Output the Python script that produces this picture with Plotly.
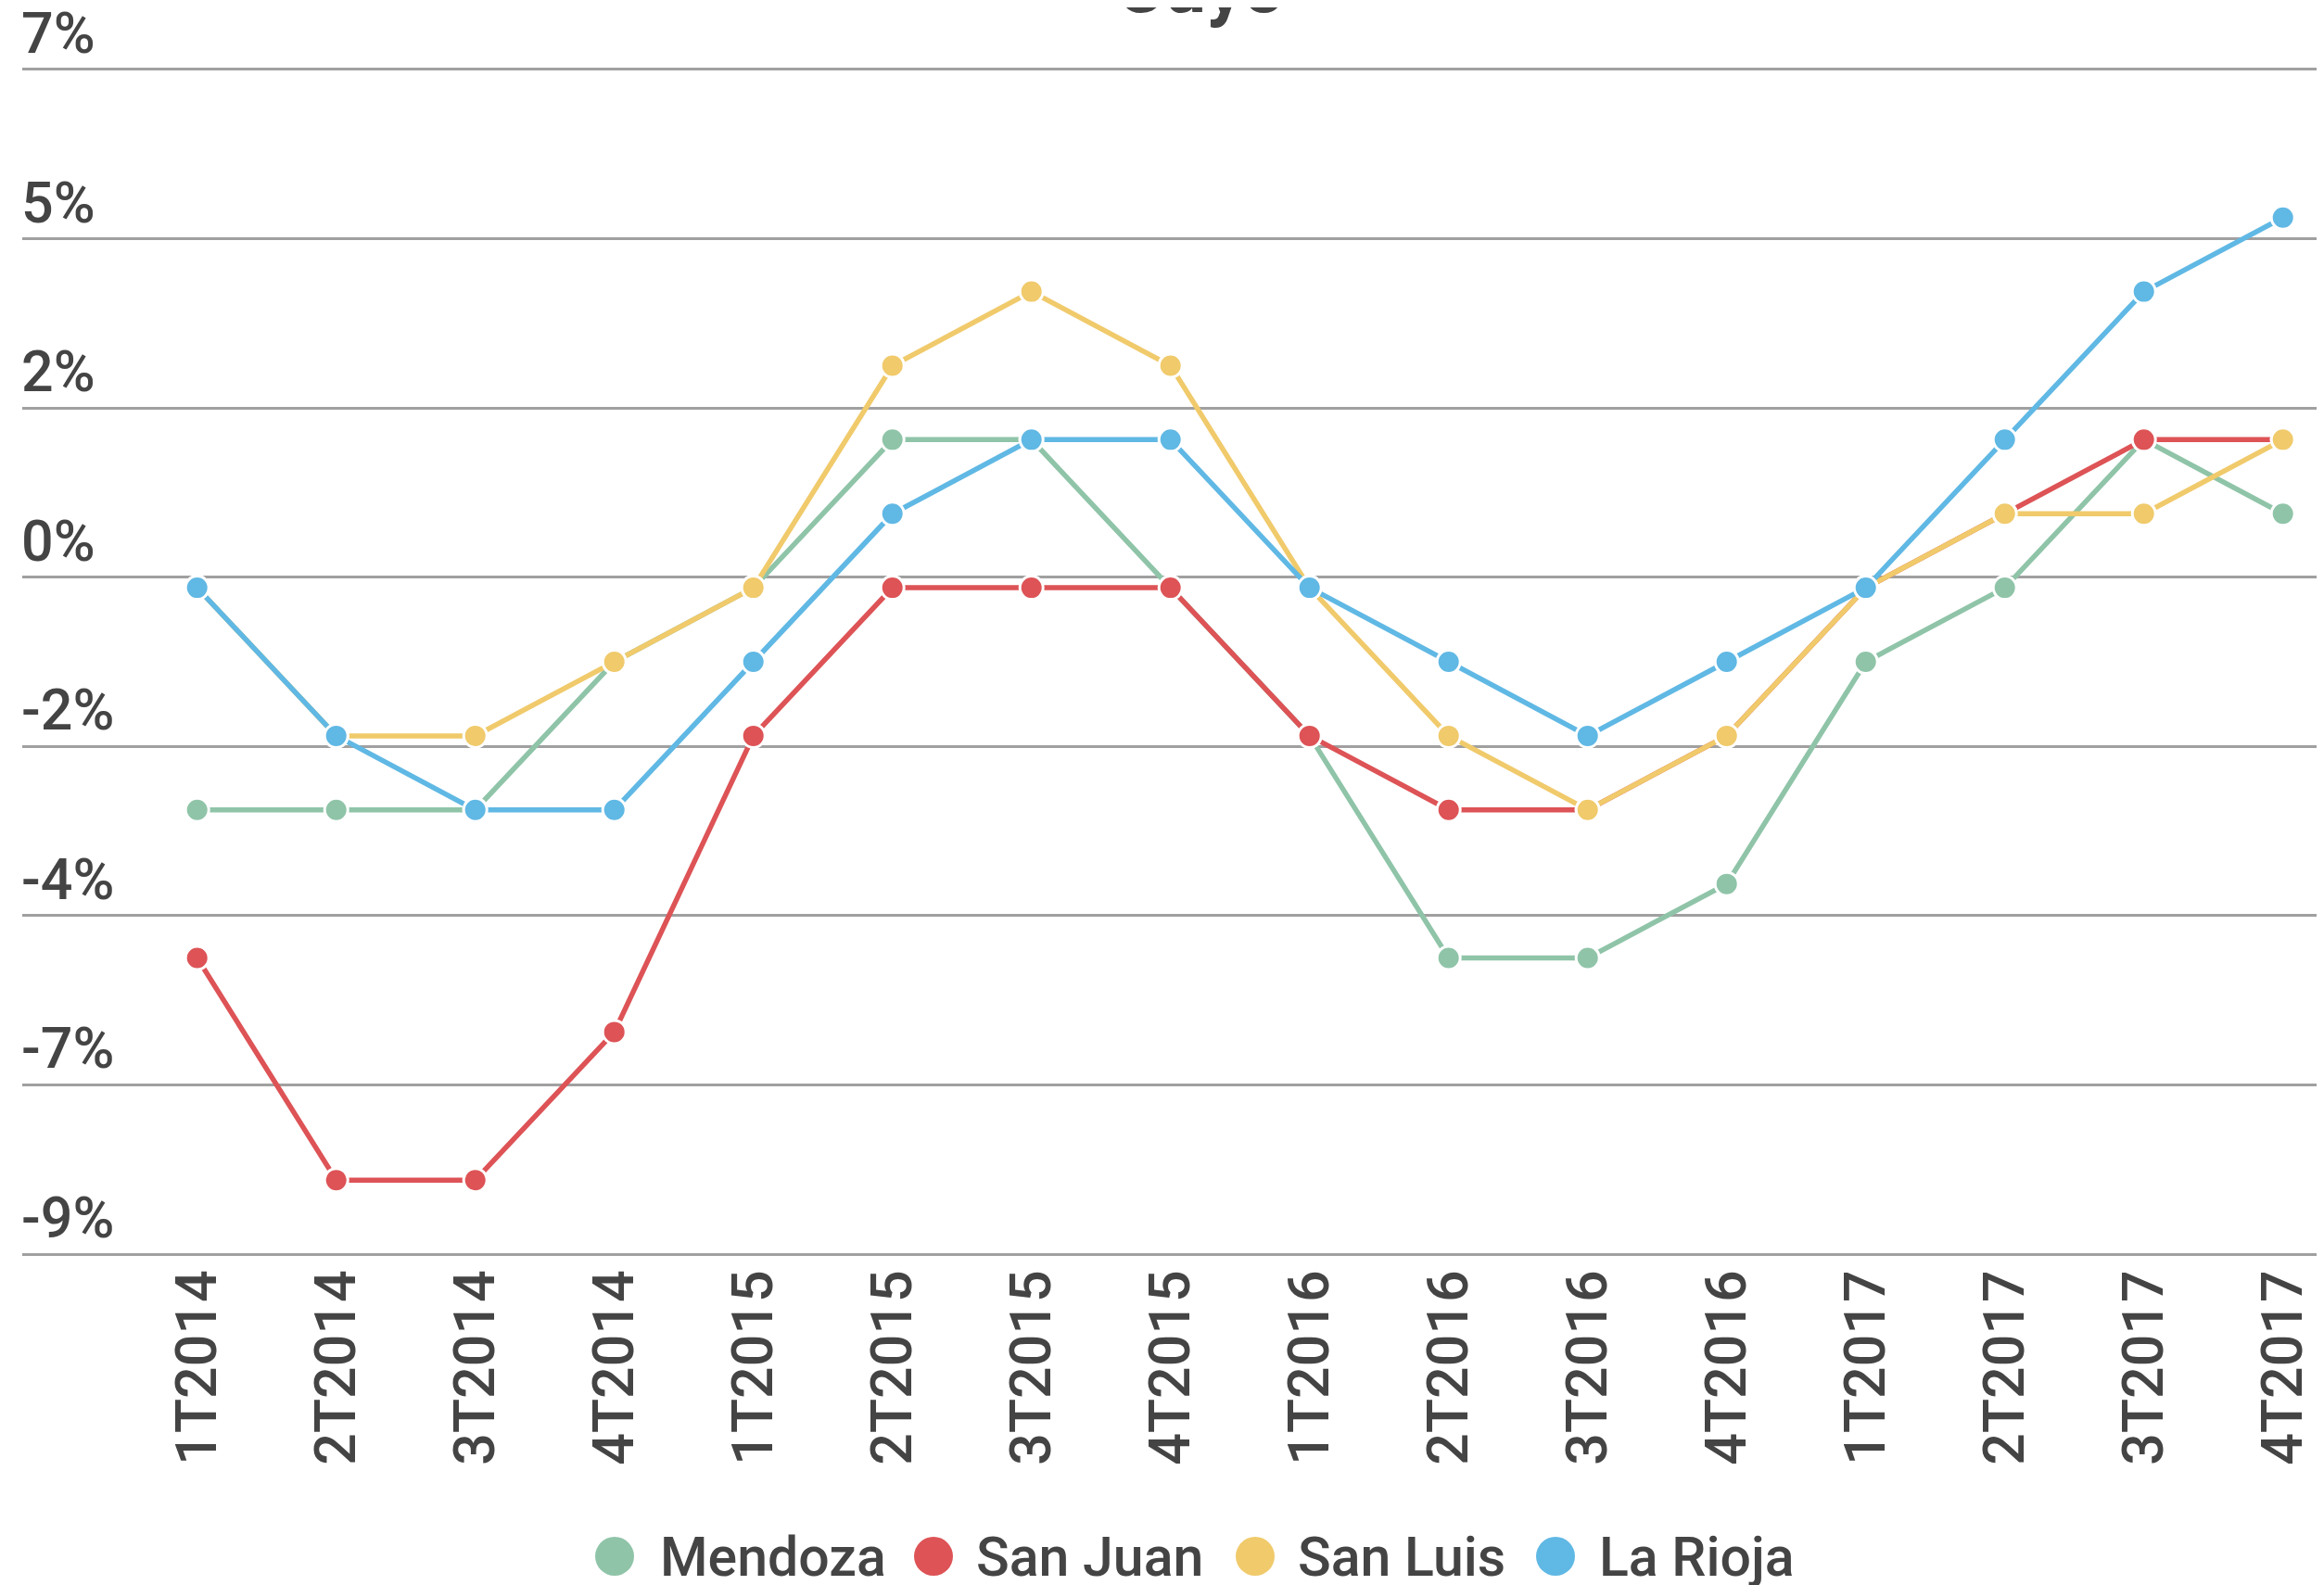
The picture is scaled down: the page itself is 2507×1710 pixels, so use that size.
import plotly.graph_objects as go

categories = ["1T2014", "2T2014", "3T2014", "4T2014", "1T2015", "2T2015", "3T2015", "4T2015",
              "1T2016", "2T2016", "3T2016", "4T2016", "1T2017", "2T2017", "3T2017", "4T2017"]
mendoza = [-3, -3, -3, -1, 0, 2, 2, 0, -2, -5, -5, -4, -1, 0, 2, 1]
san_juan = [-5, -8, -8, -6, -2, 0, 0, 0, -2, -3, -3, -2, 0, 1, 2, 2]
san_luis = [0, -2, -2, -1, 0, 3, 4, 3, 0, -2, -3, -2, 0, 1, 1, 2]
la_rioja = [0, -2, -3, -3, -1, 1, 2, 2, 0, -1, -2, -1, 0, 2, 4, 5]
series_names = ["Mendoza", "San Juan", "San Luis", "La Rioja"]
colors = ["#8FC4A8", "#DD5356", "#F0CA6B", "#60B8E4"]
y_tick_labels = ["7%", "5%", "2%", "0%", "-2%", "-4%", "-7%", "-9%"]
title_text = "Cuyo"

# page body has an 8px margin; work in window pixels and convert
OFF = 8
WIN_W, WIN_H = 2507, 1710
W, H = WIN_W - OFF, WIN_H - OFF
PLOT_L, PLOT_R = 24, 2507          # window px
Y_TOP_PX, Y_BOT_PX = 75, 1353      # window px of 7 and -9
y_top, y_bot = 7, -9
pad_units = 0.05
ppu = (Y_BOT_PX - Y_TOP_PX) / (y_top - y_bot)
pad_px = pad_units * ppu

ML = PLOT_L - OFF
MR = WIN_W - PLOT_R
MT = Y_TOP_PX - pad_px - OFF
MB = WIN_H - (Y_BOT_PX + pad_px)
PW = W - ML - MR
PH = H - MT - MB
FONT = "Roboto"
TXT = "#444444"

tickvals = [round(y_top - k * (y_top - y_bot) / 7, 6) for k in range(8)]

fig = go.Figure()
for name, vals, col in zip(series_names, [mendoza, san_juan, san_luis, la_rioja], colors):
    fig.add_trace(go.Scatter(
        x=list(range(len(categories))), y=vals, name=name, mode="lines+markers",
        line=dict(color=col, width=5.5),
        marker=dict(color=col, size=25, line=dict(color="white", width=3)),
        showlegend=False,
    ))

def px_to_paper_x(px):
    return (px - OFF - ML) / PW

def px_to_paper_y(py):
    return (MT + PH - (py - OFF)) / PH

annotations = []
shapes = []
# y tick labels (above gridlines)
for v, t in zip(tickvals, y_tick_labels):
    annotations.append(dict(x=0, xref="paper", y=v, yref="y", text=t, showarrow=False,
                            xanchor="left", yanchor="bottom", yshift=1, xshift=-3,
                            font=dict(family=FONT, size=61, color=TXT, weight=500)))

# custom legend
leg_circle_x = [663, 1007, 1354, 1678]
leg_text_x = [710, 1051, 1398, 1723]
leg_y = 1679
r = 21
for name, col, cx, tx in zip(series_names, colors, leg_circle_x, leg_text_x):
    shapes.append(dict(type="circle", xref="paper", yref="paper",
                       x0=px_to_paper_x(cx - r), x1=px_to_paper_x(cx + r),
                       y0=px_to_paper_y(leg_y + r), y1=px_to_paper_y(leg_y - r),
                       fillcolor=col, line=dict(width=0)))
    annotations.append(dict(x=px_to_paper_x(tx), xref="paper", y=px_to_paper_y(leg_y), yref="paper",
                            text=name, showarrow=False, xanchor="left", yanchor="middle",
                            font=dict(family=FONT, size=59, color=TXT, weight=500)))

# title (mostly cut off at the top)
annotations.append(dict(x=px_to_paper_x(1295), xref="paper", y=px_to_paper_y(35), yref="paper",
                        text="<b>" + title_text + "</b>", showarrow=False, xanchor="center",
                        yanchor="bottom", font=dict(family=FONT, size=80, color=TXT)))

fig.update_layout(
    width=W, height=H,
    margin=dict(l=ML, r=MR, t=MT, b=MB, pad=0),
    paper_bgcolor="white", plot_bgcolor="white",
    font=dict(family=FONT, color=TXT),
    xaxis=dict(range=[(PLOT_L - 212.7) / 150.0, (PLOT_R - 212.7) / 150.0], tickmode="array",
               tickvals=list(range(len(categories))), ticktext=categories,
               tickangle=-90, showgrid=False, zeroline=False, showline=False, automargin=False,
               ticks="", tickfont=dict(family=FONT, size=61, color=TXT, weight=500)),
    yaxis=dict(range=[y_bot - pad_units, y_top + pad_units], tickmode="array", tickvals=tickvals,
               showticklabels=False, showgrid=True, gridcolor="#A0A0A0", gridwidth=3,
               zeroline=False, showline=False, ticks="", automargin=False),
    annotations=annotations, shapes=shapes,
)
fig.write_html("out.html")
